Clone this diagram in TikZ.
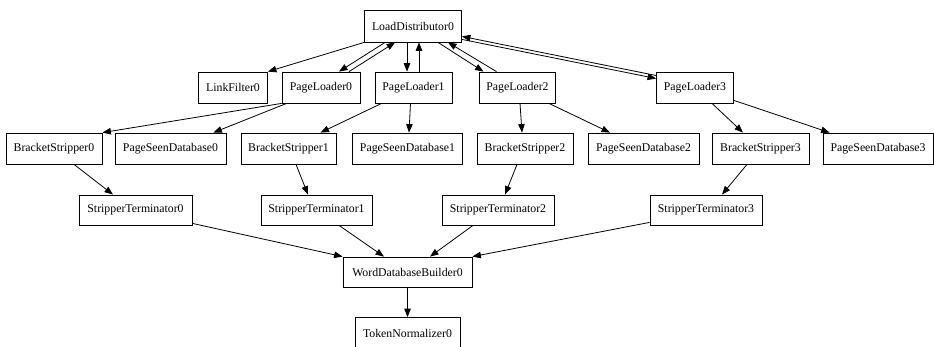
\documentclass[tikz,border=0pt]{standalone}
\usepackage{fontspec}
\setmainfont{Liberation Serif}
\usetikzlibrary{arrows.meta,calc}
\begin{document}
\begin{tikzpicture}[x=1pt,y=-1pt,
  box/.style={draw=black,line width=0.8pt,fill=white,inner sep=0pt,minimum height=31pt,
    font=\fontsize{11.8}{14}\selectfont},
  arr/.style={draw=black,line width=0.8pt,-{Triangle[length=8.5pt,width=6.5pt]}}]
\useasboundingbox (0,0) rectangle (934,347);
% nodes
\node[box,minimum width=97pt,minimum height=32pt] (LD) at (413,26) {LoadDistributor0};
\node[box,minimum width=69pt] (LF) at (233,87.5) {LinkFilter0};
\node[box,minimum width=78pt] (PL0) at (321,87.5) {PageLoader0};
\node[box,minimum width=77pt] (PL1) at (413.5,87.5) {PageLoader1};
\node[box,minimum width=76pt] (PL2) at (517.5,87.5) {PageLoader2};
\node[box,minimum width=77pt] (PL3) at (695,87.5) {PageLoader3};
\node[box,minimum width=96pt] (BS0) at (54,148.5) {BracketStripper0};
\node[box,minimum width=111pt] (PSD0) at (170.5,148.5) {PageSeenDatabase0};
\node[box,minimum width=95pt] (BS1) at (288.5,148.5) {BracketStripper1};
\node[box,minimum width=110pt] (PSD1) at (407.5,148.5) {PageSeenDatabase1};
\node[box,minimum width=96pt] (BS2) at (525,148.5) {BracketStripper2};
\node[box,minimum width=111pt] (PSD2) at (643.5,148.5) {PageSeenDatabase2};
\node[box,minimum width=97pt] (BS3) at (760.5,148.5) {BracketStripper3};
\node[box,minimum width=110pt] (PSD3) at (878,148.5) {PageSeenDatabase3};
\node[box,minimum width=113pt,minimum height=30pt] (ST0) at (135.5,210) {StripperTerminator0};
\node[box,minimum width=111pt,minimum height=30pt] (ST1) at (316.5,210) {StripperTerminator1};
\node[box,minimum width=112pt,minimum height=30pt] (ST2) at (498,210) {StripperTerminator2};
\node[box,minimum width=112pt,minimum height=30pt] (ST3) at (706,210) {StripperTerminator3};
\node[box,minimum width=129pt,minimum height=30pt] (WDB) at (407.5,272) {WordDatabaseBuilder0};
\node[box,minimum width=105pt] (TN) at (407.5,333) {TokenNormalizer0};
% LoadDistributor edges
\draw[arr] (LD.south west) -- (LF.north east);
\draw[arr] ($(LD.south west)+(21,0)$) -- ($(PL0.north)+(18,0)$);
\draw[arr] ($(PL0.north)+(28,0)$) -- ($(LD.south west)+(31,0)$);
\draw[arr] ($(LD.south)+(-6,0)$) -- ($(PL1.north)+(-6.5,0)$);
\draw[arr] ($(PL1.north)+(5.5,0)$) -- ($(LD.south)+(6,0)$);
\draw[arr] ($(LD.south)+(25,0)$) -- ($(PL2.north)+(-34,0)$);
\draw[arr] ($(PL2.north)+(-21,0)$) -- ($(LD.south)+(35,0)$);
\draw[arr] ($(LD.south east)+(0,-3)$) -- ($(PL3.west)+(0,-9)$);
\draw[arr] ($(PL3.west)+(0,-12)$) -- ($(LD.south east)+(0,-6)$);
% PageLoader edges
\draw[arr] (PL0.south west) -- (BS0.north east);
\draw[arr] ($(PL0.south west)+(5,0)$) -- ($(PSD0.north east)+(-13,0)$);
\draw[arr] ($(PL1.south west)+(7,0)$) -- ($(BS1.north)+(32,0)$);
\draw[arr] ($(PL1.south)+(-3,0)$) -- ($(PSD1.north)+(1.5,0)$);
\draw[arr] ($(PL2.south)+(2.5,0)$) -- ($(BS2.north)+(-3,0)$);
\draw[arr] ($(PL2.south east)+(-7,0)$) -- ($(PSD2.north)+(-33.5,0)$);
\draw[arr] ($(PL3.south)+(17,0)$) -- ($(BS3.north)+(-17.5,0)$);
\draw[arr] ($(PL3.south east)+(0,-3)$) -- ($(PSD3.north west)+(7,0)$);
% BracketStripper edges
\draw[arr] ($(BS0.south)+(20,0)$) -- ($(ST0.north)+(-22.5,0)$);
\draw[arr] ($(BS1.south)+(7.5,0)$) -- ($(ST1.north)+(-8.5,0)$);
\draw[arr] ($(BS2.south)+(-8,0)$) -- ($(ST2.north)+(7,0)$);
\draw[arr] ($(BS3.south)+(-13.5,0)$) -- ($(ST3.north)+(16,0)$);
% StripperTerminator edges
\draw[arr] ($(ST0.south east)+(0,-2)$) -- (WDB.north west);
\draw[arr] ($(ST1.south)+(22.5,0)$) -- ($(WDB.north)+(-23.5,0)$);
\draw[arr] ($(ST2.south)+(-25,0)$) -- ($(WDB.north)+(22.5,0)$);
\draw[arr] ($(ST3.south west)+(0,-3)$) -- (WDB.north east);
\draw[arr] (WDB.south) -- (TN.north);
\end{tikzpicture}
\end{document}
